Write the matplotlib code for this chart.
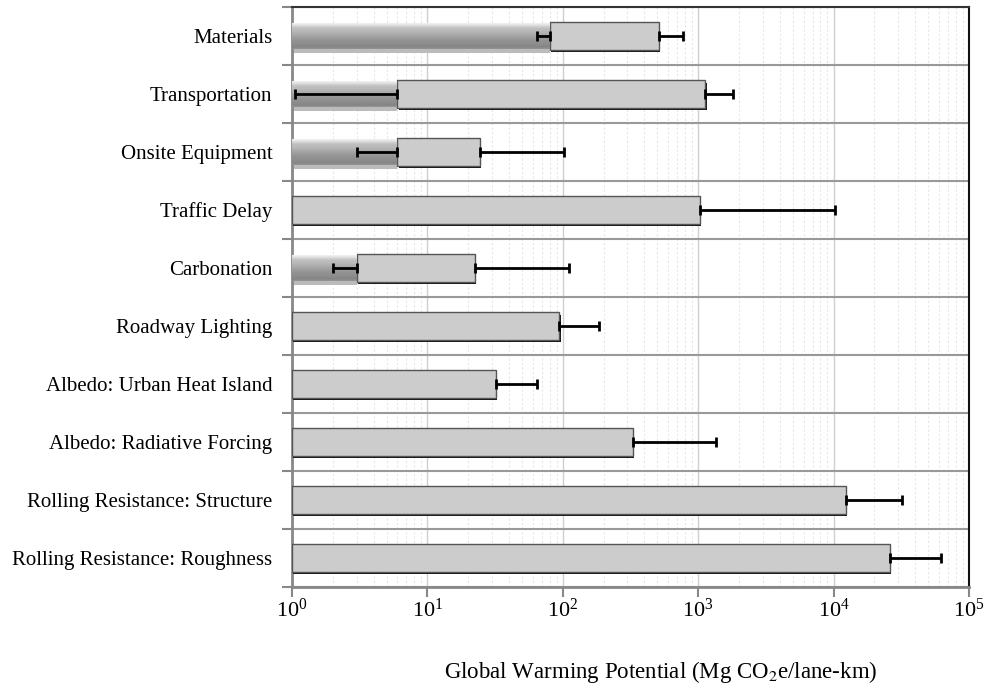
import numpy as np
import matplotlib
matplotlib.use("Agg")
import matplotlib.pyplot as plt
import matplotlib.patheffects as pe
from matplotlib.ticker import LogLocator, LogFormatterSciNotation, NullFormatter

plt.rcParams["font.family"] = ["Liberation Serif", "DejaVu Serif"]
plt.rcParams["mathtext.fontset"] = "stix"

# categories, top to bottom
categories = [
    "Materials",
    "Transportation",
    "Onsite Equipment",
    "Traffic Delay",
    "Carbonation",
    "Roadway Lighting",
    "Albedo: Urban Heat Island",
    "Albedo: Radiative Forcing",
    "Rolling Resistance: Structure",
    "Rolling Resistance: Roughness",
]
# lower estimate (dark bar), 0 = none
low_value = [80, 6, 6, 0, 3, 0, 0, 0, 0, 0]
low_err_min = [64, 1.05, 3, 0, 2, 0, 0, 0, 0, 0]
# upper estimate (light bar) and its error bar end
high_value = [510, 1130, 24.5, 1030, 22.3, 94, 32, 330, 12300, 26000]
high_err_max = [770, 1800, 102, 10200, 112, 185, 65, 1350, 32000, 62000]

fig = plt.figure(figsize=(9.87, 6.87), dpi=100)
ax = fig.add_axes([292 / 987, 1 - 587 / 687, 677 / 987, 580 / 687])
ax.set_xscale("log")
ax.set_xlim(1, 1e5)
ax.set_ylim(len(categories) - 0.5, -0.5)

y = np.arange(len(categories))
h_light = 0.48
h_dark = 0.45

# light bars (start where the dark bar ends)
lefts = [lv if lv > 0 else 1 for lv in low_value]
widths = [hv - l for hv, l in zip(high_value, lefts)]
bars = ax.barh(y, widths, left=lefts, height=h_light, color="#cccccc",
               edgecolor="#555555", linewidth=1, zorder=3)
for b in bars:
    b.set_path_effects([pe.SimplePatchShadow(offset=(1, -1.8), shadow_rgbFace="#111111", alpha=1.0),
                        pe.Normal()])

# dark gradient bars built from thin horizontal strips
stops = [0.0, 0.08, 0.2, 0.6, 0.9, 1.0]
shades = [0.95, 0.89, 0.76, 0.60, 0.52, 0.58]
n_strips = 24
for yi, lv in zip(y, low_value):
    if lv <= 0:
        continue
    top = yi - h_dark / 2
    for k in range(n_strips):
        frac = (k + 0.5) / n_strips
        g = np.interp(frac, stops, shades)
        ax.barh(top + (k + 0.5) * h_dark / n_strips, lv - 1, left=1,
                height=h_dark / n_strips, color=(g, g, g), linewidth=0, zorder=4)
    # soft shadow under the dark bar
    ax.barh(yi + h_dark / 2 + 0.03, lv - 1, left=1, height=0.06,
            color="#bbbbbb", linewidth=0, zorder=2)

# error bars
for yi, lv, lo in zip(y, low_value, low_err_min):
    if lv > 0:
        ax.errorbar(lv, yi, xerr=[[lv - lo], [0]], fmt="none", ecolor="black",
                    elinewidth=2, capsize=3.5, capthick=2, zorder=6)
for yi, hv, hi in zip(y, high_value, high_err_max):
    ax.errorbar(hv, yi, xerr=[[0], [hi - hv]], fmt="none", ecolor="black",
                elinewidth=2, capsize=3.5, capthick=2, zorder=6)

# category separators
for b in np.arange(len(categories) + 1) - 0.5:
    ax.axhline(b, color="#999999", linewidth=1.5, zorder=1)

# gridlines
ax.xaxis.set_major_locator(LogLocator(base=10, numticks=10))
ax.xaxis.set_minor_locator(LogLocator(base=10, subs=np.arange(2, 10), numticks=10))
ax.xaxis.set_major_formatter(LogFormatterSciNotation())
ax.xaxis.set_minor_formatter(NullFormatter())
ax.grid(True, which="major", axis="x", color="#cfcfcf", linewidth=1, zorder=0)
ax.grid(True, which="minor", axis="x", color="#e6e6e6", linewidth=0.8,
        linestyle=(0, (2, 2)), zorder=0)
ax.set_axisbelow(True)

ax.set_yticks(np.arange(len(categories) + 1) - 0.5, minor=False)
ax.set_yticklabels([])
ax.set_yticks(y, minor=True)
ax.set_yticklabels(categories, minor=True, fontsize=15)
ax.tick_params(axis="y", which="minor", length=0, pad=14)
ax.tick_params(axis="y", which="major", length=7, width=1.5, color="#888888")
ax.tick_params(axis="x", which="major", length=7, width=1.5, color="#888888",
               labelsize=16, pad=1)
ax.tick_params(axis="x", which="minor", length=0)

for side in ["left", "bottom"]:
    ax.spines[side].set_color("#888888")
    ax.spines[side].set_linewidth(2)
ax.spines["top"].set_color("#333333")
ax.spines["top"].set_linewidth(1.5)
ax.spines["right"].set_color("#111111")
ax.spines["right"].set_linewidth(1.5)

ax.set_xlabel("Global Warming Potential (Mg CO$_2$e/lane-km)", fontsize=16.5)
ax.xaxis.set_label_coords(0.545, -0.124)

fig.savefig("out.png", dpi=100)
